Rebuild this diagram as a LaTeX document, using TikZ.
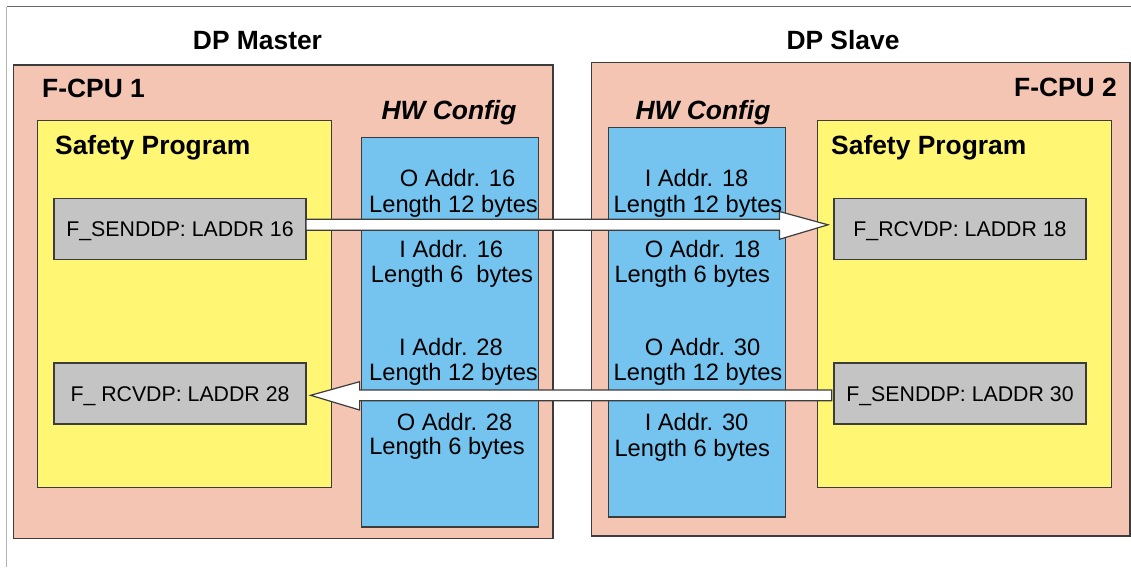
\documentclass[tikz,border=0pt]{standalone}
\usepackage{fontspec}
\setmainfont{Liberation Sans}
\usetikzlibrary{calc}
\definecolor{cpufill}{HTML}{F4C5B3}
\definecolor{progfill}{HTML}{FFF773}
\definecolor{hwfill}{HTML}{74C4EF}
\definecolor{fbfill}{HTML}{C4C4C4}
\definecolor{edge}{HTML}{3C3C3C}
\definecolor{framedark}{HTML}{6A6A6A}
\definecolor{framelight}{HTML}{B4B4B4}
\begin{document}
\begin{tikzpicture}[x=1pt,y=-1pt,
  panel/.style={draw=edge, line width=1.4pt, inner sep=0pt, outer sep=0pt, anchor=north west},
  cpu/.style={panel, fill=cpufill},
  prog/.style={panel, fill=progfill, minimum width=294pt, minimum height=366.5pt},
  hw/.style={panel, fill=hwfill, minimum width=177pt, minimum height=389.7pt},
  fblock/.style={panel, fill=fbfill, anchor=north west, minimum width=252pt, minimum height=61pt,
    font=\fontsize{21.3}{24}\selectfont, text height=15.2pt, text depth=0pt},
  head/.style={font=\fontsize{26.4}{30}\selectfont\bfseries, inner sep=0pt},
  hwtitle/.style={font=\fontsize{26.4}{30}\selectfont\bfseries\itshape, inner sep=0pt, anchor=base},
  addr/.style={font=\fontsize{23.7}{26}\selectfont, inner sep=0pt, anchor=base},
  fatarrow/.style={draw=edge, line width=1.2pt, fill=white, line join=miter}
]
\useasboundingbox (0,0) rectangle (1131,567);

% page frame
\coordinate (fc) at (6.7,6.7);
\draw[framedark, line width=1.5pt] (fc) -- (1131,6.7);
\draw[framelight, line width=1.5pt] (fc) -- (6.7,567);

% CPU panels
\node[cpu, minimum width=539.3pt, minimum height=473.7pt] (cpu1) at (13.7,65) {};
\node[cpu, minimum width=538.5pt, minimum height=473.3pt] (cpu2) at (591.5,62.7) {};

% safety programs
\node[prog] (prog1) at (37.7,120.7) {};
\node[prog] (prog2) at (817.5,120.7) {};

% HW configuration columns
\node[hw] (hw1) at (361.7,137.3) {};
\node[hw] (hw2) at (608.7,127.3) {};

% F-blocks
\node[fblock] (snd1) at (54,198.3) {F\_SENDDP: LADDR 16};
\node[fblock] (rcv1) at (54,363) {F\_ RCVDP: LADDR 28};
\node[fblock] (rcv2) at (834,198.3) {F\_RCVDP: LADDR 18};
\node[fblock] (snd2) at (834,363) {F\_SENDDP: LADDR 30};

% data flow arrows
\draw[fatarrow] ($(snd1.east)+(0,-9.5)$) -- ($(rcv2.west)+(-54.6,-9.5)$)
  -- ($(rcv2.west)+(-54.6,-17.3)$) -- ($(rcv2.west)+(-6,-4)$)
  -- ($(rcv2.west)+(-54.6,10.5)$) -- ($(rcv2.west)+(-54.6,1.5)$)
  -- ($(snd1.east)+(0,1.5)$) -- cycle;
\draw[fatarrow] ($(snd2.west)+(-2.3,-3.5)$) -- ($(rcv1.east)+(53.6,-3.5)$)
  -- ($(rcv1.east)+(53.6,-11.8)$) -- ($(rcv1.east)+(4.6,1.8)$)
  -- ($(rcv1.east)+(53.6,16.5)$) -- ($(rcv1.east)+(53.6,7.2)$)
  -- ($(snd2.west)+(-2.3,7.2)$) -- cycle;

% headings
\node[head, anchor=base] (tMaster) at (257.5,50) {DP Master};
\node[head, anchor=base] (tSlave) at (843,50) {DP Slave};
\node[head, anchor=base west] (tCpu1) at (42,98) {F-CPU 1};
\node[head, anchor=base east] (tCpu2) at (1117,97) {F-CPU 2};
\node[head, anchor=base west] (tProg1) at (55,154) {Safety Program};
\node[head, anchor=base west] (tProg2) at (831,154) {Safety Program};
\node[hwtitle] (tHw1) at (449,120) {HW Config};
\node[hwtitle] (tHw2) at (703,120) {HW Config};

% address assignments, master side
\node[addr] (m1) at (457.5,186) {O Addr. 16};
\node[addr] (m2) at (453.5,212.7) {Length 12 bytes};
\node[addr] (m3) at (451.3,257) {I Addr. 16};
\node[addr] (m4) at (452,282.7) {Length 6\ \ bytes};
\node[addr] (m5) at (451,355) {I Addr. 28};
\node[addr] (m6) at (453.5,380) {Length 12 bytes};
\node[addr] (m7) at (454.5,430) {O Addr. 28};
\node[addr] (m8) at (447,454.5) {Length 6 bytes};

% address assignments, slave side
\node[addr] (s1) at (696.6,186) {I Addr. 18};
\node[addr] (s2) at (698,212.7) {Length 12 bytes};
\node[addr] (s3) at (702.5,257) {O Addr. 18};
\node[addr] (s4) at (692.3,282.7) {Length 6 bytes};
\node[addr] (s5) at (702.5,355) {O Addr. 30};
\node[addr] (s6) at (698,380) {Length 12 bytes};
\node[addr] (s7) at (696.6,430.5) {I Addr. 30};
\node[addr] (s8) at (692.3,456) {Length 6 bytes};
\end{tikzpicture}
\end{document}
